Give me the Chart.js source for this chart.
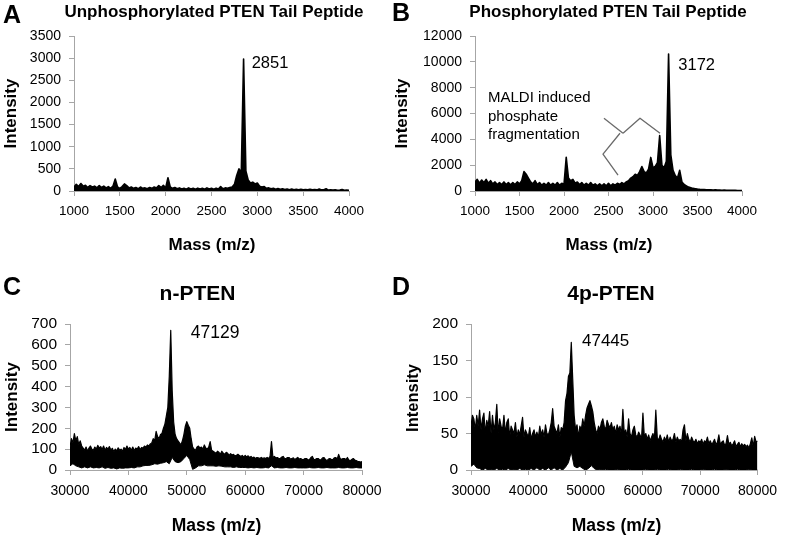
<!DOCTYPE html>
<html><head><meta charset="utf-8">
<script src="https://cdn.jsdelivr.net/npm/chart.js@4.4.1/dist/chart.umd.min.js"></script>
<style>
html,body{margin:0;padding:0;background:#fff;}
#wrap{position:relative;width:785px;height:536px;overflow:hidden;background:#fff;}
canvas{position:absolute;}
</style></head><body>
<div id="wrap">
<canvas id="cA" width="390" height="268" style="left:0;top:0"></canvas>
<canvas id="cB" width="395" height="268" style="left:390px;top:0"></canvas>
<canvas id="cC" width="390" height="268" style="left:0;top:268px"></canvas>
<canvas id="cD" width="395" height="268" style="left:390px;top:268px"></canvas>
</div>
<script>
// ---------- DATA ----------
// Peptide spectra (A, B): masses start at 1000, one reading every 25 m/z
const peptideMassStart = 1000;
const peptideMassStep = 25;
const peptideMassTicks = [1000, 1500, 2000, 2500, 3000, 3500, 4000];

// A: unphosphorylated PTEN tail peptide (intensity envelope)
const unphosIntensity = [
  90,150,100,170,110,130,80,120,90,110,70,120,80,110,70,100,60,110,270,90,
  60,100,160,120,70,90,60,80,50,90,60,70,50,80,60,90,70,120,80,130,
  70,300,90,60,80,50,70,45,60,40,70,45,60,40,65,45,60,40,70,45,
  60,40,65,45,100,50,70,60,80,90,150,350,500,420,2980,450,250,180,200,160,
  180,110,90,100,60,70,50,60,40,55,40,50,35,45,30,45,30,40,30,40,
  25,35,25,40,25,35,25,45,25,30,50,20,25,20,25,15,20,35,15,20,
  15
];
const unphosIntensityTicks = [0, 500, 1000, 1500, 2000, 2500, 3000, 3500];

// B: phosphorylated PTEN tail peptide (intensity envelope)
const phosIntensity = [
  700,900,600,850,650,900,600,800,550,700,500,650,500,700,500,650,480,650,500,700,
  550,800,1500,1300,1000,700,550,800,500,650,450,600,450,650,450,600,450,650,450,600,
  500,2600,1000,800,900,600,700,500,650,450,600,450,650,450,550,400,550,400,550,400,
  600,400,550,450,600,500,650,550,700,800,1000,1100,1300,1200,1500,1900,1500,1400,1700,2600,
  1800,1900,2200,4300,2000,1800,2300,10600,2800,1600,1200,1000,1600,700,500,400,300,250,200,180,
  150,130,120,110,100,100,90,80,90,70,70,60,80,60,50,50,60,50,40,40,
  30
];
const phosIntensityTicks = [0, 2000, 4000, 6000, 8000, 10000, 12000];

// Protein spectra (C, D): masses start at 30000
const proteinMassStart = 30000;
const proteinMassStep = 500;
const proteinMassStepFine = 250;
const proteinMassTicks = [30000, 40000, 50000, 60000, 70000, 80000];

// C: n-PTEN, upper edge (every 250 m/z) and lower edge (every 500 m/z) of the noisy trace
const nPtenUpper = [
  110,150,130,175,140,160,120,140,115,105,95,110,90,105,115,100,95,110,100,118,
  105,112,98,115,95,108,100,112,96,104,88,100,92,106,95,100,90,108,98,115,
  100,108,95,110,92,105,100,112,98,108,105,115,110,120,115,125,130,150,140,185,
  160,150,170,175,200,220,260,300,450,670,380,230,170,150,140,130,120,140,170,210,
  232,215,200,150,110,100,95,110,115,105,110,100,120,105,100,110,136,95,90,85,
  80,90,85,75,90,80,75,85,80,70,78,72,75,68,70,75,70,65,70,62,
  70,62,68,60,65,58,62,55,60,58,55,60,55,58,55,60,55,65,136,60,
  65,58,60,55,55,62,65,55,55,60,60,52,55,58,50,55,60,52,55,50,
  50,55,55,48,50,60,65,50,50,55,55,48,50,58,60,50,45,52,55,50,
  50,58,60,52,75,55,50,55,55,50,60,48,45,50,55,48,45,42,40,38,
  40
];
const nPtenLower = [
  20,30,20,15,10,15,10,15,10,12,10,15,8,12,8,10,5,10,8,10,
  10,12,10,15,15,20,22,22,25,30,28,32,35,40,30,60,40,35,40,55,
  70,50,3,10,20,20,25,20,20,20,18,20,18,15,15,15,12,15,12,12,
  12,10,12,10,12,10,10,12,10,20,10,12,10,10,12,10,10,12,10,10,
  10,10,12,10,10,12,10,10,12,10,10,10,12,10,10,12,10,10,12,10,
  10
];
const nPtenTicks = [0, 100, 200, 300, 400, 500, 600, 700];

// D: 4p-PTEN, upper edge every 250 m/z, lower edge every 500 m/z
const p4PtenUpper = [
  60,75,70,55,75,60,82,55,70,78,50,68,60,80,50,75,55,65,90,50,
  70,60,55,75,50,65,70,45,60,55,50,65,45,55,48,60,72,45,55,50,
  45,58,42,50,55,45,52,44,60,48,55,45,62,50,48,55,65,84,60,55,
  50,62,45,58,55,65,95,105,128,133,175,125,75,55,62,45,60,55,70,60,
  75,85,90,95,88,80,65,55,50,60,55,65,70,60,55,68,62,58,65,55,
  60,50,62,55,60,48,83,50,55,45,70,50,45,55,60,48,45,52,48,42,
  78,45,50,42,48,40,45,50,42,82,45,40,48,42,38,45,40,48,38,45,
  40,42,50,38,45,40,42,38,55,62,40,50,42,38,45,40,38,42,36,40,
  38,42,35,40,38,45,36,40,35,38,42,35,38,48,35,38,40,34,36,47,
  35,38,33,36,40,32,35,38,32,36,33,35,32,34,30,36,44,32,46,38,
  40
];
const p4PtenLower = [
  5,8,3,2,0,2,0,1,0,2,0,1,0,2,0,1,0,2,0,1,
  0,2,0,3,0,2,0,3,0,3,0,2,0,4,10,25,5,3,5,2,
  0,2,6,2,0,1,0,1,0,0,0,1,0,0,0,1,0,0,0,0,
  0,1,0,0,0,1,0,0,0,1,0,0,0,1,0,0,0,1,0,0,
  0,1,0,0,0,1,0,0,0,1,0,0,0,1,0,0,0,1,0,0,
  0
];
const p4PtenTicks = [0, 50, 100, 150, 200];

// Peak labels: [text, mass, intensity]
const peakA = ['2851', 2851, 3000];
const peakB = ['3172', 3172, 10600];
const peakC = ['47129', 47129, 670];
const peakD = ['47445', 47445, 175];

// Bracket in B (mass, intensity) pointing at fragment peaks
const fragmentationBracket = [
  [[2449, 5640], [2663, 4470]],
  [[2663, 4470], [2854, 5640], [3079, 4470]],
  [[2629, 4470], [2438, 2850], [2607, 1220]]
];

// ---------- RENDERING ----------
const FONT = '"Liberation Sans", Arial, Helvetica, sans-serif';
const AXIS_GRAY = '#a6a6a6';

function series(start, step, values) {
  return values.map((v, i) => ({ x: start + step * i, y: v }));
}

const textPlugin = {
  id: 'panelText',
  afterDraw(chart, args, opts) {
    const ctx = chart.ctx;
    const xs = chart.scales.x, ys = chart.scales.y;
    (opts.paths || []).forEach(p => {
      ctx.save();
      ctx.strokeStyle = '#6a6a6a';
      ctx.lineWidth = 1.3;
      ctx.lineJoin = 'round';
      ctx.beginPath();
      p.forEach((pt, i) => {
        const px = xs.getPixelForValue(pt[0]), py = ys.getPixelForValue(pt[1]);
        if (i === 0) ctx.moveTo(px, py); else ctx.lineTo(px, py);
      });
      ctx.stroke();
      ctx.restore();
    });
    (opts.items || []).forEach(it => {
      ctx.save();
      ctx.font = it.font;
      ctx.fillStyle = '#000';
      ctx.textAlign = it.align || 'center';
      ctx.textBaseline = it.baseline || 'middle';
      let x = it.x, y = it.y;
      if (it.anchor) {
        x = xs.getPixelForValue(it.anchor[0]) + it.dx;
        y = ys.getPixelForValue(it.anchor[1]) + it.dy;
      }
      ctx.translate(x, y);
      if (it.rotate) ctx.rotate(it.rotate);
      ctx.fillText(it.text, 0, 0);
      ctx.restore();
    });
  }
};

function scaleCfg(tickArr, o, isX) {
  return {
    type: 'linear',
    min: tickArr[0],
    max: tickArr[tickArr.length - 1],
    z: isX ? (o.xz || 0) : 0,
    afterFit: s => { if (isX) s.height = o.xH; else s.width = o.yW; },
    afterBuildTicks: s => { s.ticks = tickArr.map(v => ({ value: v })); },
    ticks: {
      autoSkip: false, maxRotation: 0, minRotation: 0,
      padding: isX ? o.xPad : o.yPad,
      color: '#000',
      font: { family: FONT, size: isX ? o.xFont : o.yFont },
      callback: v => String(v)
    },
    grid: { display: true, drawOnChartArea: false, drawTicks: true, tickLength: 5, color: AXIS_GRAY, lineWidth: 1 },
    border: { display: true, color: AXIS_GRAY, width: 1 }
  };
}

function buildChart(id, o) {
  return new Chart(document.getElementById(id), {
    type: 'line',
    data: { datasets: o.datasets },
    options: {
      responsive: false, animation: false, events: [],
      layout: { padding: { left: 0, right: o.padR, top: o.padT, bottom: 0 } },
      plugins: {
        legend: { display: false }, tooltip: { enabled: false },
        panelText: { items: o.items, paths: o.paths || [] }
      },
      elements: { point: { radius: 0 }, line: { tension: 0, borderJoinStyle: 'round' } },
      scales: { x: scaleCfg(o.xTicks, o, true), y: scaleCfg(o.yTicks, o, false) }
    },
    plugins: [textPlugin]
  });
}

function filled(data, color, bw) {
  return { data, borderColor: '#000', borderWidth: bw, backgroundColor: color, fill: 'origin', pointRadius: 0 };
}

const bold = s => 'bold ' + s + 'px ' + FONT;
const reg = s => s + 'px ' + FONT;
const ROT = -Math.PI / 2;

// Panel A
buildChart('cA', {
  datasets: [filled(series(peptideMassStart, peptideMassStep, unphosIntensity), '#000', 1.6)],
  xTicks: peptideMassTicks, yTicks: unphosIntensityTicks,
  padR: 41, padT: 36, xH: 77, yW: 74, xPad: 7, yPad: 8, xFont: 13.5, yFont: 14,
  items: [
    { text: 'A', font: bold(25), x: 3, y: 22.7, align: 'left', baseline: 'alphabetic' },
    { text: 'Unphosphorylated PTEN Tail Peptide', font: bold(17), x: 214, y: 12 },
    { text: 'Intensity', font: bold(17), x: 11, y: 113.5, rotate: ROT },
    { text: 'Mass (m/z)', font: bold(17), x: 212, y: 245.5 },
    { text: peakA[0], anchor: [peakA[1], peakA[2]], dx: 8, dy: 5, font: reg(16.5), align: 'left' }
  ]
});

// Panel B
buildChart('cB', {
  datasets: [filled(series(peptideMassStart, peptideMassStep, phosIntensity), '#000', 1.6)],
  xTicks: peptideMassTicks, yTicks: phosIntensityTicks,
  padR: 43, padT: 36, xH: 77, yW: 85, xPad: 7, yPad: 8, xFont: 13.5, yFont: 14,
  paths: fragmentationBracket,
  items: [
    { text: 'B', font: bold(25), x: 2, y: 20.7, align: 'left', baseline: 'alphabetic' },
    { text: 'Phosphorylated PTEN Tail Peptide', font: bold(17), x: 218, y: 12 },
    { text: 'Intensity', font: bold(17), x: 12, y: 113.5, rotate: ROT },
    { text: 'Mass (m/z)', font: bold(17), x: 219, y: 245.5 },
    { text: peakB[0], anchor: [peakB[1], peakB[2]], dx: 10, dy: 11, font: reg(16.5), align: 'left' },
    { text: 'MALDI induced', font: reg(15), x: 98, y: 97.7, align: 'left' },
    { text: 'phosphate', font: reg(15), x: 98, y: 116.5, align: 'left' },
    { text: 'fragmentation', font: reg(15), x: 98, y: 135, align: 'left' }
  ]
});

// Panel C
buildChart('cC', {
  datasets: [
    filled(series(proteinMassStart, proteinMassStep, nPtenLower), '#fff', 1),
    filled(series(proteinMassStart, proteinMassStepFine, nPtenUpper), '#000', 1.2)
  ],
  xTicks: proteinMassTicks, yTicks: nPtenTicks,
  padR: 28, padT: 56, xH: 66, yW: 70, xPad: 8, yPad: 8, xFont: 14, yFont: 15.5, xz: 1,
  items: [
    { text: 'C', font: bold(25), x: 3, y: 27, align: 'left', baseline: 'alphabetic' },
    { text: 'n-PTEN', font: bold(21), x: 197.5, y: 26 },
    { text: 'Intensity', font: bold(17), x: 12, y: 129, rotate: ROT },
    { text: 'Mass (m/z)', font: bold(17.5), x: 216.5, y: 258.5 },
    { text: peakC[0], anchor: [peakC[1], peakC[2]], dx: 20.7, dy: 3, font: reg(17.5), align: 'left' }
  ]
});

// Panel D
buildChart('cD', {
  datasets: [
    filled(series(proteinMassStart, proteinMassStep, p4PtenLower), '#fff', 1),
    filled(series(proteinMassStart, proteinMassStepFine, p4PtenUpper), '#000', 1.2)
  ],
  xTicks: proteinMassTicks, yTicks: p4PtenTicks,
  padR: 22, padT: 56, xH: 66, yW: 81, xPad: 8, yPad: 8, xFont: 14, yFont: 15.5, xz: 1,
  items: [
    { text: 'D', font: bold(25), x: 2, y: 27, align: 'left', baseline: 'alphabetic' },
    { text: '4p-PTEN', font: bold(21), x: 221, y: 26 },
    { text: 'Intensity', font: bold(16.5), x: 23, y: 130, rotate: ROT },
    { text: 'Mass (m/z)', font: bold(17.5), x: 226.5, y: 258 },
    { text: peakD[0], anchor: [peakD[1], peakD[2]], dx: 11, dy: -0.5, font: reg(17), align: 'left' }
  ]
});
</script>
</body></html>
